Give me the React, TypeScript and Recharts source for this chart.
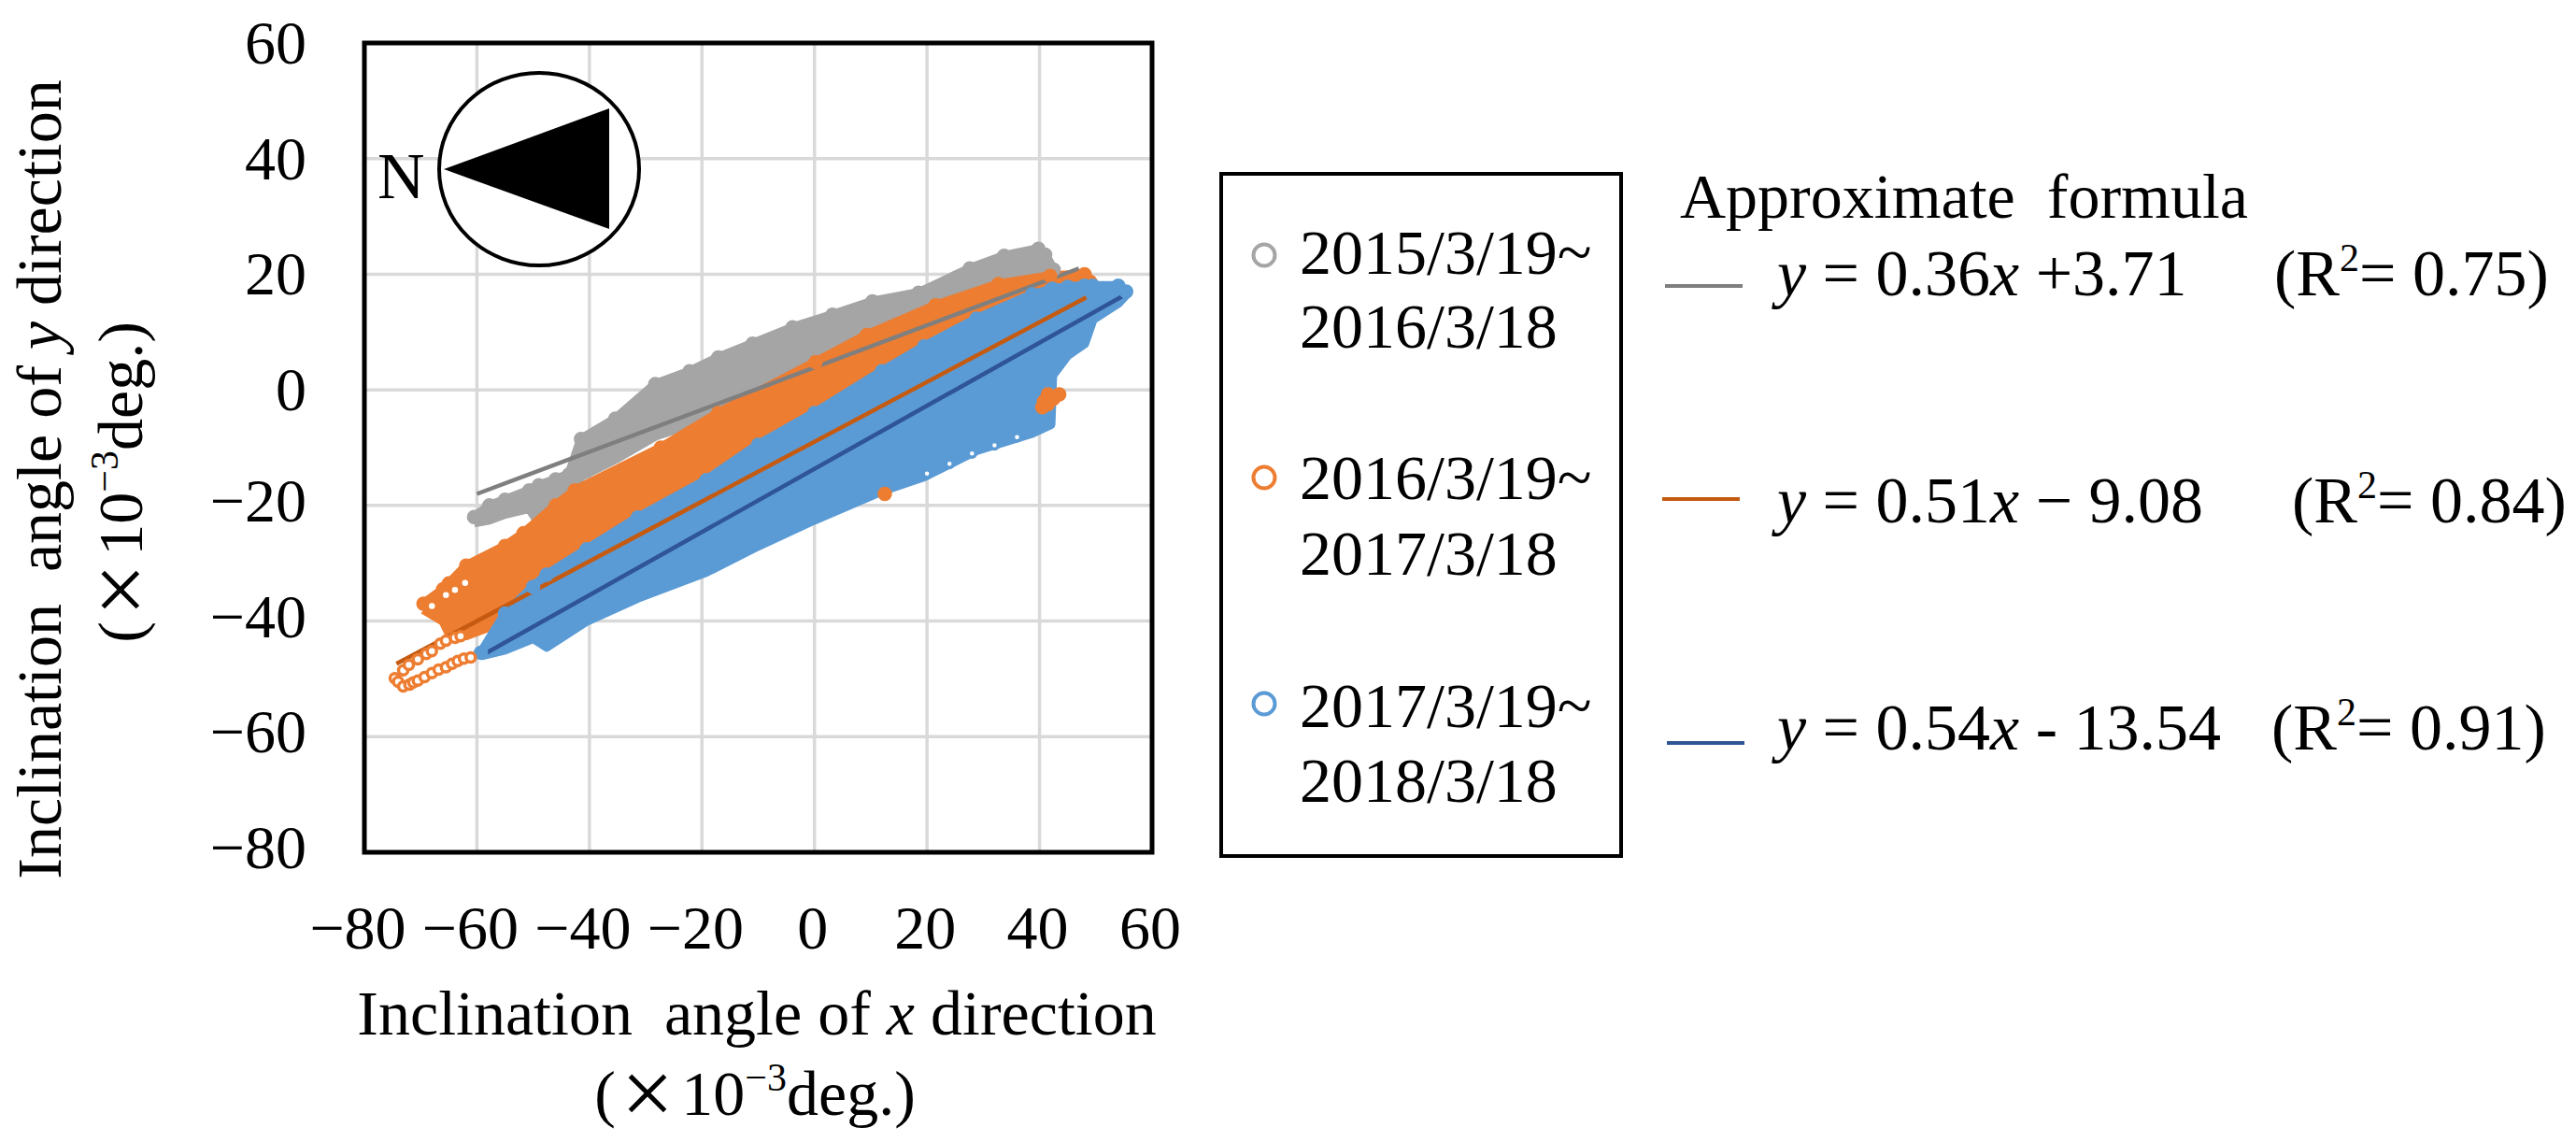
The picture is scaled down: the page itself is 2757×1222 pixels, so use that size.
import React from 'react'
import { Area, CartesianGrid, ComposedChart, Line, ReferenceArea, Scatter, XAxis, YAxis } from 'recharts'

const xTicks = [-80, -60, -40, -20, 0, 20, 40, 60]
const yTicks = [-80, -60, -40, -20, 0, 20, 40, 60]

// [x, low, high], the dense clouds are drawn as their envelope
const grayRows = [
  [-60.5, -23, -22], [-57.8, -22.5, -20], [-55, -21.5, -19], [-50.7, -20.5, -17.4], [-49, -23, -16.5],
  [-46, -22.5, -15.5], [-43.6, -18, -14.6], [-41.5, -15, -8.5], [-35.4, -12, -5], [-28.3, -8, 1],
  [-22.2, -6, 3.2], [-17.1, -3, 5.6], [-11, 0, 8], [-3.9, 3, 10.8], [3.2, 6, 13], [10.3, 10, 15.3],
  [18.5, 12, 16.8], [27.6, 16, 21], [33.7, 18, 23.2], [39.8, 20, 24.4], [41, 21, 23.4], [42.5, 20, 20.8],
]
const orangeRows = [
  [-69.5, -38, -37], [-66, -40, -34.5], [-65, -42, -33.5], [-61.9, -42.5, -30.4], [-55, -40, -27],
  [-51.7, -36, -24.8], [-46, -32, -20], [-42.6, -28, -17.4], [-27.3, -24, -10], [-17.1, -20, -4],
  [0.2, -15, 4.8], [9.3, -10, 9.5], [21.5, 0, 14.6], [32.7, 10, 18.3], [41.9, 15, 19.7], [48, 16, 20], [49, 17, 18.7],
]
const blueRows = [
  [-59.3, -46, -45.5], [-55, -45, -38.7], [-50, -43, -34.1], [-47.6, -44.5, -32], [-40.5, -40, -27.6],
  [-31.4, -36, -22.1], [-19.2, -31.5, -15.6], [-10, -27, -9.5], [0, -22.5, -4], [12, -17.5, 3.2],
  [19.5, -15, 7.5], [28.8, -10.5, 12.3], [38.7, -7.5, 16.5], [42, -6, 17.3], [42.3, 2.5, 17.5],
  [45, 6, 17.8], [48, 8, 18], [49.5, 12.2, 18], [54, 15, 18], [55.4, 16.5, 17],
]

// single circles that stand clear of the clouds
const orangeRings = [
  [-74.6, -49.9], [-74, -50.5], [-73.1, -51.3], [-72, -51], [-71.3, -50.6], [-70.5, -50.3], [-69.3, -49.7],
  [-68, -49], [-66.8, -48.4], [-65.5, -48], [-64.4, -47.4], [-63.4, -46.9], [-62.3, -46.5], [-61.1, -46.3],
  [-73.1, -48.5], [-72.1, -47.6], [-70.5, -46.6], [-69, -45.7], [-68, -45.2], [-66.5, -43.9], [-65.5, -43.4],
  [-63.9, -42.9], [-62.9, -42.6], [-65.5, -35.5], [-63.9, -34.6], [-62.1, -33.4], [-68, -37.4],
]
const orangeBlob = [[40.5, -3], [41.5, -2.5], [42.5, -1.5], [43.5, -0.8], [41.5, -0.8], [40.8, -2], [12.5, -18]]
const blueRings = [[20, -14.5], [24, -12.8], [28, -11], [32, -9.6], [36, -8.2]]

const grayTrend = [{ x: -60, y: -18 }, { x: 47, y: 21 }]
const orangeTrend = [{ x: -74.3, y: -47.4 }, { x: 48.3, y: 16 }]
const blueTrend = [{ x: -59.6, y: -46.2 }, { x: 55.1, y: 16.4 }]

const GRAY = '#a5a5a5'
const ORANGE = '#ed7d31'
const BLUE = '#5b9bd5'
const FONT = '"Liberation Serif", serif'

const band = (rows: number[][]) => rows.map(([x, low, high]) => ({ x, range: [low, high] }))
const pts = (rows: number[][]) => rows.map(([x, y]) => ({ x, y }))
const minus = (v: number) => (v < 0 ? `\u2212${-v}` : `${v}`)

const dot = (color: string, fill: string, r = 6) => (p: any) => (
  <circle key={`${p.cx}-${p.cy}`} cx={p.cx} cy={p.cy} r={r} fill={fill} stroke={color} strokeWidth={3.5} />
)

const XTick = ({ x, y, payload }: any) => (
  <text x={x - (payload.value < 0 ? 7 : 2)} y={y + 103} textAnchor="middle" fontFamily={FONT} fontSize={66}>
    {minus(payload.value)}
  </text>
)
const YTick = ({ x, y, payload }: any) => (
  <text x={x - 62} y={y + 22 - (payload.value < 0 ? 5 : 0)} textAnchor="end" fontFamily={FONT} fontSize={66}>
    {minus(payload.value)}
  </text>
)

const Cloud = (rows: number[][], color: string) => (
  <Area key={color} data={band(rows)} dataKey="range" type="linear" stroke={color} strokeWidth={10} strokeLinejoin="round"
    fill={color} fillOpacity={1} dot={dot(color, color)} activeDot={false} isAnimationActive={false} />
)

const Sup = ({ children }: { children: React.ReactNode }) => (
  <tspan dy={-26} fontSize={42}>{children}</tspan>
)

// the unit line, with the wide multiplication sign of the original
const Unit = () => (
  <>
    (<tspan fontSize={100} dy={10} dx={6}>{'\u00d7'}</tspan><tspan dy={-10} dx={8}>10</tspan><Sup>{'\u2212'}3</Sup><tspan dy={26}>deg.)</tspan>
  </>
)

const legendRows = [
  { color: GRAY, y: 273, a: '2015/3/19~', b: '2016/3/18', ay: 293, by: 372 },
  { color: ORANGE, y: 511, a: '2016/3/19~', b: '2017/3/18', ay: 534, by: 615 },
  { color: BLUE, y: 753, a: '2017/3/19~', b: '2018/3/18', ay: 778, by: 858 },
]
const formulaRows = [
  { color: '#7f7f7f', lx: 1782, ly: 306, ty: 316, tail: ' = 0.36', rest: ' +3.71', rx: 2434, r2: '= 0.75)' },
  { color: '#c55a11', lx: 1779, ly: 534, ty: 559, tail: ' = 0.51', rest: ' \u2212 9.08', rx: 2453, r2: '= 0.84)' },
  { color: '#2f5597', lx: 1784, ly: 795, ty: 802, tail: ' = 0.54', rest: ' - 13.54', rx: 2431, r2: '= 0.91)' },
]

export default function App() {
  return (
    <div style={{ position: 'absolute', left: 0, top: 0, width: 2757, height: 1222, background: '#fff', overflow: 'hidden' }}>
      <div style={{ position: 'absolute', left: 0, top: 0 }}>
        <ComposedChart width={2757} height={1222} margin={{ left: 290, right: 1524, top: 46, bottom: 210 }}>
          <CartesianGrid stroke="#d9d9d9" strokeWidth={3.5} />
          <XAxis dataKey="x" type="number" domain={[-80, 60]} ticks={xTicks} height={100} tick={<XTick />} tickLine={false} axisLine={false} tickSize={0} tickMargin={0} interval={0} allowDataOverflow />
          <YAxis dataKey="y" type="number" domain={[-80, 60]} ticks={yTicks} width={100} tick={<YTick />} tickLine={false} axisLine={false} tickSize={0} tickMargin={0} interval={0} allowDataOverflow />
          {Cloud(grayRows, GRAY)}
          {Cloud(orangeRows, ORANGE)}
          {Cloud(blueRows, BLUE)}
          <Scatter data={pts(blueRings)} dataKey="y" shape={dot(BLUE, '#fff', 4)} isAnimationActive={false} />
          <Scatter data={pts(orangeRings)} dataKey="y" shape={dot(ORANGE, '#fff', 5)} isAnimationActive={false} />
          <Scatter data={pts(orangeBlob)} dataKey="y" shape={dot(ORANGE, ORANGE)} isAnimationActive={false} />
          <Line data={grayTrend} dataKey="y" type="linear" stroke="#7f7f7f" strokeWidth={4.5} dot={false} activeDot={false} isAnimationActive={false} />
          <Line data={orangeTrend} dataKey="y" type="linear" stroke="#c55a11" strokeWidth={4.5} dot={false} activeDot={false} isAnimationActive={false} />
          <Line data={blueTrend} dataKey="y" type="linear" stroke="#2f5597" strokeWidth={4.5} dot={false} activeDot={false} isAnimationActive={false} />
          <ReferenceArea x1={-80} x2={60} y1={-80} y2={60} fill="none" stroke="#000" strokeWidth={5} ifOverflow="visible" />
        </ComposedChart>
      </div>

      <svg width={2757} height={1222} style={{ position: 'absolute', left: 0, top: 0 }} fontFamily={FONT} fill="#000">
        {/* compass */}
        <ellipse cx={577} cy={181} rx={107} ry={103} fill="#fff" stroke="#000" strokeWidth={4} />
        <polygon points="475,181 652,116 652,245" fill="#000" />
        <text x={404} y={212} fontSize={70}>N</text>

        {/* axis titles */}
        <text x={810} y={1107} textAnchor="middle" fontSize={68} xmlSpace="preserve">
          Inclination  angle of <tspan fontStyle="italic">x</tspan> direction
        </text>
        <text x={808} y={1193} textAnchor="middle" fontSize={68}><Unit /></text>
        <text transform="translate(65,513) rotate(-90)" textAnchor="middle" fontSize={68} xmlSpace="preserve">
          Inclination  angle of <tspan fontStyle="italic">y</tspan> direction
        </text>
        <text transform="translate(152,516) rotate(-90)" textAnchor="middle" fontSize={68}><Unit /></text>

        {/* legend box */}
        <rect x={1307} y={186} width={428} height={730} fill="#fff" stroke="#000" strokeWidth={4} />
        {legendRows.map((r) => (
          <g key={r.a}>
            <circle cx={1353} cy={r.y} r={11.5} fill="none" stroke={r.color} strokeWidth={4} />
            <text x={1391} y={r.ay} fontSize={68}>{r.a}</text>
            <text x={1391} y={r.by} fontSize={68}>{r.b}</text>
          </g>
        ))}

        {/* fit formulas */}
        <text x={1798} y={233} fontSize={68} xmlSpace="preserve">Approximate  formula</text>
        {formulaRows.map((r) => (
          <g key={r.color}>
            <line x1={r.lx} x2={r.lx + 83} y1={r.ly} y2={r.ly} stroke={r.color} strokeWidth={4} />
            <text x={1902} y={r.ty} fontSize={70} xmlSpace="preserve">
              <tspan fontStyle="italic">y</tspan>{r.tail}<tspan fontStyle="italic">x</tspan>{r.rest}
            </text>
            <text x={r.rx} y={r.ty} fontSize={70}>
              (R<Sup>2</Sup><tspan dy={26}>{r.r2}</tspan>
            </text>
          </g>
        ))}
      </svg>
    </div>
  )
}
